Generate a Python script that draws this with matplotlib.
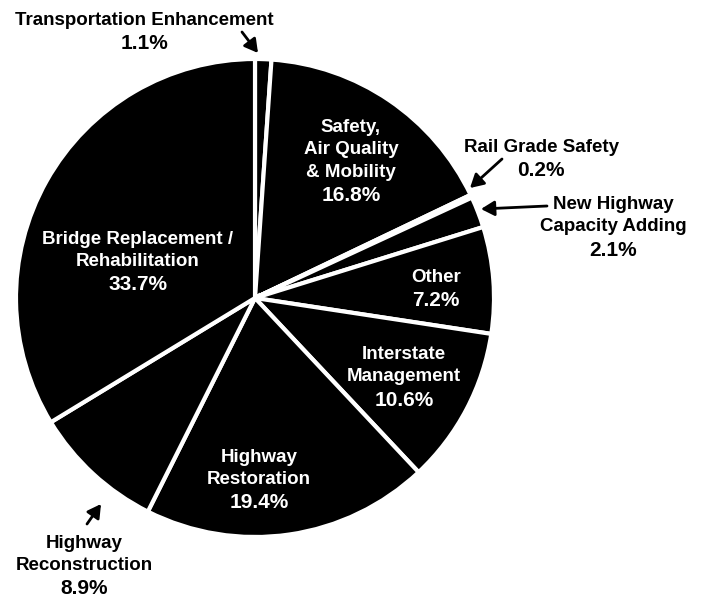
import matplotlib
matplotlib.use("Agg")
import matplotlib.pyplot as plt

plt.rcParams['font.family'] = ['Liberation Sans', 'DejaVu Sans']
plt.rcParams['font.weight'] = 'bold'

# Program shares, clockwise from 12 o'clock
categories = [
    "Transportation Enhancement",
    "Safety,\nAir Quality\n& Mobility",
    "Rail Grade Safety",
    "New Highway\nCapacity Adding",
    "Other",
    "Interstate\nManagement",
    "Highway\nRestoration",
    "Highway\nReconstruction",
    "Bridge Replacement /\nRehabilitation",
]
shares = [1.1, 16.8, 0.2, 2.1, 7.2, 10.6, 19.4, 8.9, 33.7]

W, H = 701, 597


def Y(y):
    # work in top-down pixel coordinates
    return H - y


fig = plt.figure(figsize=(W / 100, H / 100), dpi=100)
ax = fig.add_axes([0, 0, 1, 1])

ax.pie(shares, startangle=90, counterclock=False, colors=['black'] * len(shares),
       center=(255, Y(298)), radius=239,
       wedgeprops=dict(edgecolor='white', linewidth=3), frame=True)
ax.set_xlim(0, W)
ax.set_ylim(0, H)
ax.set_aspect('equal')
ax.axis('off')

fs_name = 13.5
fs_pct = 15
pitch = 22.5
pct_gap = 23.5


def draw_label(i, x, y, color):
    # name lines first, then the share in a slightly larger size
    lines = categories[i].split("\n")
    for k, line in enumerate(lines):
        ax.text(x, Y(y + k * pitch + 6.8), line, color=color, fontsize=fs_name,
                ha='center', va='baseline')
    yp = y + (len(lines) - 1) * pitch + pct_gap
    ax.text(x, Y(yp + 7.5), f"{shares[i]}%", color=color, fontsize=fs_pct,
            ha='center', va='baseline')


# labels inside the wedges (white)
inside = {1: (351, 125), 4: (436, 275), 5: (404, 352), 6: (259, 455), 8: (138, 237)}
for i, (x, y) in inside.items():
    draw_label(i, x, y, 'white')

# labels outside with arrows (black)
outside = {
    0: ((144, 18), (242, 32), (258, 53)),
    2: ((541, 145), (502, 159), (470, 188)),
    3: ((613, 202), (547, 206), (481, 209)),
    7: ((84, 541), (87, 524), (101, 504)),
}
arrow = dict(arrowstyle='-|>,head_length=0.8,head_width=0.45', color='black', lw=2,
             shrinkA=0, shrinkB=0)
for i, ((tx, ty), (ax0, ay0), (ax1, ay1)) in outside.items():
    draw_label(i, tx, ty, 'black')
    ax.annotate("", xy=(ax1, Y(ay1)), xytext=(ax0, Y(ay0)), arrowprops=arrow)

fig.savefig("out.png", dpi=100, facecolor='white')
